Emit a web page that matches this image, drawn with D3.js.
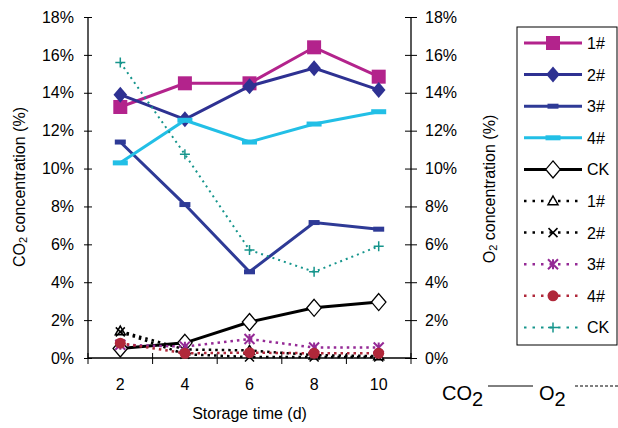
<!DOCTYPE html>
<html>
<head>
<meta charset="utf-8">
<script src="https://cdnjs.cloudflare.com/ajax/libs/d3/7.8.5/d3.min.js"></script>
<style>
  body { margin: 0; background: #fff; }
  text { font-family: "Liberation Sans", Arial, sans-serif; fill: #000; }
</style>
</head>
<body>
<div id="chart"></div>
<script>
// storage days
var days = [2, 4, 6, 8, 10];
var yTicks = [0, 2, 4, 6, 8, 10, 12, 14, 16, 18];

// CO2 concentration (%)
var co2_1 = [13.25, 14.5, 14.5, 16.4, 14.85];
var co2_2 = [13.9, 12.6, 14.35, 15.3, 14.15];
var co2_3 = [11.4, 8.1, 4.55, 7.15, 6.8];
var co2_4 = [10.3, 12.55, 11.4, 12.35, 13.0];
var co2_ck = [0.5, 0.8, 1.9, 2.65, 2.95];

// O2 concentration (%)
var o2_1 = [1.42, 0.45, 0.4, 0.15, 0.1];
var o2_2 = [1.38, 0.2, 0.05, 0.05, 0.05];
var o2_3 = [0.7, 0.6, 1.0, 0.55, 0.55];
var o2_4 = [0.78, 0.25, 0.28, 0.25, 0.25];
var o2_ck = [15.6, 10.75, 5.7, 4.55, 5.9];

var W = 618, H = 428;
var pLeft = 88, pRight = 411, pTop = 17, pBottom = 358;

var svg = d3.select("#chart").append("svg")
    .attr("width", W).attr("height", H);

var x = d3.scaleBand().domain(days).range([pLeft, pRight]);
var y = d3.scaleLinear().domain([0, 18]).range([pBottom, pTop]);
var y2 = d3.scaleLinear().domain([0, 18]).range([pBottom, pTop]);
var cx = function(d) { return x(d) + x.bandwidth() / 2; };

// series settings
var series = [
  {name: "1#", vals: co2_1, scale: y, color: "#B3238C", width: 3, dash: null, mark: "square", size: 14, fill: "#B3238C"},
  {name: "2#", vals: co2_2, scale: y, color: "#2E3192", width: 3, dash: null, mark: "diamond", size: 16, fill: "#2E3192"},
  {name: "3#", vals: co2_3, scale: y, color: "#2E3A96", width: 3, dash: null, mark: "dash", size: 11, fill: "#2E3A96"},
  {name: "4#", vals: co2_4, scale: y, color: "#22BFE6", width: 3, dash: null, mark: "dash", size: 15, fill: "#22BFE6"},
  {name: "CK", vals: co2_ck, scale: y, color: "#000", width: 3, dash: null, mark: "diamond", size: 17, fill: "#fff"},
  {name: "1#", vals: o2_1, scale: y2, color: "#000", width: 2.5, dash: "2.5,4", mark: "triangle", size: 10, fill: "#fff"},
  {name: "2#", vals: o2_2, scale: y2, color: "#000", width: 2.5, dash: "2.5,4", mark: "times", size: 9, fill: "none"},
  {name: "3#", vals: o2_3, scale: y2, color: "#952A96", width: 2.5, dash: "2.5,4", mark: "asterisk", size: 10, fill: "none"},
  {name: "4#", vals: o2_4, scale: y2, color: "#B0283A", width: 2.5, dash: "2.5,4", mark: "circle", size: 11, fill: "#B0283A"},
  {name: "CK", vals: o2_ck, scale: y2, color: "#16958C", width: 2, dash: "2,4", mark: "plus", size: 10, fill: "none"}
];

function drawMarker(g, s, px, py) {
  var m = s.mark, r = s.size / 2;
  if (m == "square") {
    g.append("rect").attr("x", px - r).attr("y", py - r).attr("width", s.size).attr("height", s.size)
      .attr("fill", s.fill);
  } else if (m == "diamond") {
    g.append("path").attr("d", "M" + px + "," + (py - r) + "L" + (px + r * 0.85) + "," + py + "L" + px + "," + (py + r) + "L" + (px - r * 0.85) + "," + py + "Z")
      .attr("fill", s.fill).attr("stroke", s.color).attr("stroke-width", s.fill == "#fff" ? 1.3 : 0);
  } else if (m == "dash") {
    g.append("rect").attr("x", px - r).attr("y", py - 2.5).attr("width", s.size).attr("height", 5)
      .attr("fill", s.fill);
  } else if (m == "triangle") {
    g.append("path").attr("d", "M" + px + "," + (py - r) + "L" + (px + r) + "," + (py + r * 0.75) + "L" + (px - r) + "," + (py + r * 0.75) + "Z")
      .attr("fill", "#fff").attr("stroke", s.color).attr("stroke-width", 1.5);
  } else if (m == "times") {
    g.append("path").attr("d", "M" + (px - r) + "," + (py - r) + "L" + (px + r) + "," + (py + r) + "M" + (px + r) + "," + (py - r) + "L" + (px - r) + "," + (py + r))
      .attr("stroke", s.color).attr("stroke-width", 1.5);
  } else if (m == "asterisk") {
    g.append("path").attr("d", "M" + (px - r) + "," + (py - r) + "L" + (px + r) + "," + (py + r) + "M" + (px + r) + "," + (py - r) + "L" + (px - r) + "," + (py + r) + "M" + px + "," + (py - r) + "L" + px + "," + (py + r))
      .attr("stroke", s.color).attr("stroke-width", 2);
  } else if (m == "circle") {
    g.append("circle").attr("cx", px).attr("cy", py).attr("r", r).attr("fill", s.fill);
  } else if (m == "plus") {
    g.append("path").attr("d", "M" + (px - r) + "," + py + "L" + (px + r) + "," + py + "M" + px + "," + (py - r) + "L" + px + "," + (py + r))
      .attr("stroke", s.color).attr("stroke-width", 1.5);
  }
}

// axes
var yAxis = svg.append("g").attr("transform", "translate(" + pLeft + ",0)")
  .call(d3.axisLeft(y).tickValues(yTicks).tickSize(4).tickPadding(10).tickFormat(function(d) { return d + "%"; }));
yAxis.selectAll(".tick line").attr("x1", 4);
var y2Axis = svg.append("g").attr("transform", "translate(" + pRight + ",0)")
  .call(d3.axisRight(y2).tickValues(yTicks).tickSize(6).tickPadding(8).tickFormat(function(d) { return d + "%"; }));
y2Axis.selectAll(".tick line").attr("x1", -6);
var xAxis = svg.append("g").attr("transform", "translate(0," + pBottom + ")")
  .call(d3.axisBottom(x).tickSize(0).tickPadding(21));
[yAxis, y2Axis, xAxis].forEach(function(a) {
  a.select(".domain").attr("stroke", "#000").attr("stroke-width", 1.3);
  a.selectAll(".tick line").attr("stroke", "#000");
  a.selectAll("text").style("font-size", "16px").style("font-family", "Liberation Sans, Arial, sans-serif");
});
yAxis.select(".domain").attr("d", "M0," + pTop + "V" + pBottom);
y2Axis.select(".domain").attr("d", "M0," + pTop + "V" + pBottom);
xAxis.select(".domain").attr("d", "M" + pLeft + ",0H" + pRight);
// category boundary ticks
var bounds = days.map(function(d) { return x(d); }).concat([pRight]);
svg.append("g").selectAll("line").data(bounds).enter().append("line")
  .attr("x1", function(d) { return d; }).attr("x2", function(d) { return d; })
  .attr("y1", pBottom - 5).attr("y2", pBottom + 6)
  .attr("stroke", "#000").attr("stroke-width", 1);

// axis titles
var t1 = svg.append("text").attr("transform", "translate(25,187) rotate(-90)")
  .attr("text-anchor", "middle").style("font-size", "16px");
t1.append("tspan").text("CO");
t1.append("tspan").text("2").style("font-size", "11px").attr("dy", 2);
t1.append("tspan").text(" concentration (%)").attr("dy", -2);
var t2 = svg.append("text").attr("transform", "translate(495,189) rotate(-90)")
  .attr("text-anchor", "middle").style("font-size", "16px");
t2.append("tspan").text("O");
t2.append("tspan").text("2").style("font-size", "11px").attr("dy", 2);
t2.append("tspan").text(" concentration (%)").attr("dy", -2);
svg.append("text").attr("x", (pLeft + pRight) / 2).attr("y", 419)
  .attr("text-anchor", "middle").style("font-size", "16px").text("Storage time (d)");

// lines and markers
var line = function(s) {
  return d3.line().x(function(d, i) { return cx(days[i]); }).y(function(d) { return s.scale(d); });
};
series.forEach(function(s) {
  var g = svg.append("g");
  g.append("path").attr("d", line(s)(s.vals))
    .attr("fill", "none").attr("stroke", s.color).attr("stroke-width", s.width)
    .attr("stroke-dasharray", s.dash);
  s.vals.forEach(function(v, i) { drawMarker(g, s, cx(days[i]), s.scale(v)); });
});

// legend
var lg = svg.append("g");
lg.append("rect").attr("x", 517).attr("y", 27).attr("width", 100).attr("height", 318)
  .attr("fill", "#fff").attr("stroke", "#000").attr("stroke-width", 1);
series.forEach(function(s, i) {
  var ly = 43 + i * 31.6;
  lg.append("line").attr("x1", 524).attr("x2", 582).attr("y1", ly).attr("y2", ly)
    .attr("stroke", s.color).attr("stroke-width", s.width).attr("stroke-dasharray", s.dash ? "2.5,6" : null);
  drawMarker(lg, s, 553, ly);
  lg.append("text").attr("x", 587).attr("y", ly + 6).style("font-size", "16px").text(s.name);
});

// bottom-right key
var k = svg.append("g");
var kt = k.append("text").attr("x", 442).attr("y", 400).style("font-size", "20px");
kt.append("tspan").text("CO");
kt.append("tspan").text("2").attr("dy", 6);
k.append("line").attr("x1", 488).attr("x2", 533).attr("y1", 386).attr("y2", 386)
  .attr("stroke", "#000").attr("stroke-width", 1);
var kt2 = k.append("text").attr("x", 539).attr("y", 400).style("font-size", "20px");
kt2.append("tspan").text("O");
kt2.append("tspan").text("2").attr("dy", 6);
k.append("line").attr("x1", 575).attr("x2", 618).attr("y1", 386).attr("y2", 386)
  .attr("stroke", "#000").attr("stroke-width", 1).attr("stroke-dasharray", "3,2");
</script>
</body>
</html>
